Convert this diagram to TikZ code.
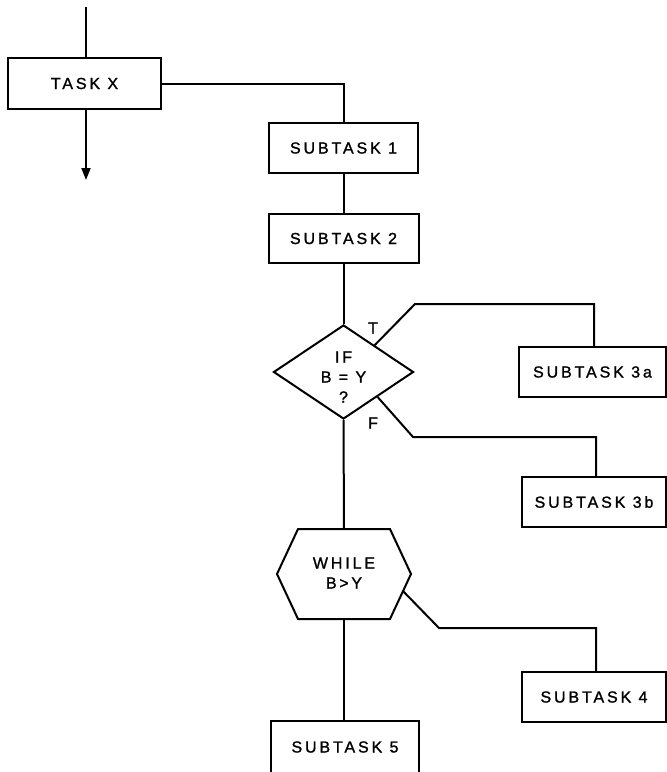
\documentclass[tikz,border=0pt]{standalone}
\usepackage{fontspec}
\newfontfamily\lbl{Liberation Sans}[LetterSpace=18,FakeBold=1.3]
\usetikzlibrary{shapes.geometric,arrows.meta,calc}
\begin{document}
\begin{tikzpicture}[x=1pt,y=-1pt,
  line width=2pt,
  every node/.style={font=\lbl\fontsize{16}{20}\selectfont},
  taskbox/.style={draw,rectangle,inner sep=0pt,line width=2pt},
  conn/.style={draw,line width=2pt},
  tf/.style={inner sep=0pt}]
\useasboundingbox (0,0) rectangle (667,772);
\clip (0,0) rectangle (667,772);
\fill[white] (0,0) rectangle (667,772);

% boxes
\node[taskbox,minimum width=153pt,minimum height=51pt] (taskx) at (84.5,83.5) {TASK X};
\node[taskbox,minimum width=149pt,minimum height=50pt] (s1) at (343.5,148) {SUBTASK 1};
\node[taskbox,minimum width=150pt,minimum height=49pt] (s2) at (343.5,238.5) {SUBTASK 2};
\node[taskbox,minimum width=147pt,minimum height=50pt] (s3a) at (592.5,372) {SUBTASK 3a};
\node[taskbox,minimum width=144pt,minimum height=50pt] (s3b) at (594,502) {SUBTASK 3b};
\node[taskbox,minimum width=144pt,minimum height=50pt] (s4) at (594,697) {SUBTASK 4};
\node[taskbox,minimum width=148pt,minimum height=52pt] (s5) at (345,747) {SUBTASK 5};

% decision diamond
\node[draw,diamond,line width=2pt,inner sep=0pt,aspect=1.49,
      minimum width=140pt,minimum height=94pt] (dec) at (343.5,372) {};
\node[align=center,inner sep=0pt] (dectext) at (343.5,377) {IF\\B = Y\\?};
\node[tf] (tlab) at (373,328) {T};
\node[tf] (flab) at (373,423) {F};

% while hexagon
\coordinate (hn) at (344,529);
\coordinate (hs) at (344,619);
\coordinate (htl) at (298,529);
\coordinate (htr) at (390,529);
\coordinate (hr) at (411,574);
\coordinate (hbr) at (390,619);
\coordinate (hbl) at (298,619);
\coordinate (hl) at (277,574);
\draw[line join=miter] (htl) -- (htr) -- (hr) -- (hbr) -- (hbl) -- (hl) -- cycle;
\node[align=center,inner sep=0pt] (whiletext) at (344,573) {WHILE\\B\,>\,Y};

% connectors
\coordinate (topin) at (86,7);
\coordinate (outend) at (86,180);
\draw[conn] (topin) -- (topin |- taskx.north);
\draw[conn,-{Triangle[length=12pt,width=9pt]}] (outend |- taskx.south) -- (outend);
\draw[conn] (taskx.east) -| (s1.north);
\draw[conn] (s1.south) -- (s1.south |- s2.north);
\draw[conn] (s2.south) -- (dec.north);

\coordinate (tstart) at ($(dec.north)!0.44!(dec.east)$);
\coordinate (tbend) at (415,304);
\coordinate (t3a) at (594,304);
\draw[conn] (tstart) -- (tbend) -- (t3a) -- (t3a |- s3a.north);

\coordinate (fstart) at ($(dec.east)!0.52!(dec.south)$);
\coordinate (fbend) at (413,437);
\coordinate (f3b) at (596,437);
\draw[conn] (fstart) -- (fbend) -- (f3b) -- (f3b |- s3b.north);

\draw[conn] (dec.south) -- (hn);

\coordinate (wstart) at ($(hr)!0.38!(hbr)$);
\coordinate (wbend) at (439,628);
\coordinate (w4) at (596,628);
\draw[conn] (wstart) -- (wbend) -- (w4) -- (w4 |- s4.north);

\draw[conn] (hs) -- (hs |- s5.north);
\end{tikzpicture}
\end{document}
